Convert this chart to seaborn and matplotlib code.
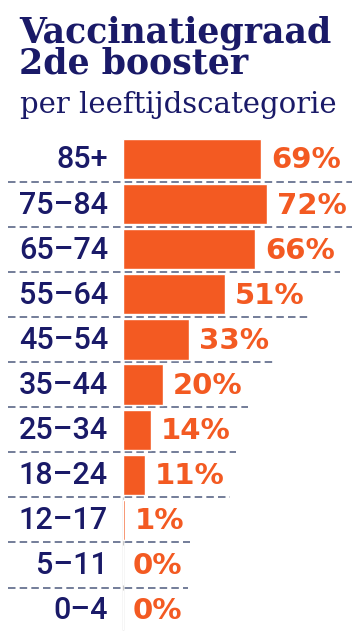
import matplotlib
matplotlib.use("Agg")
import matplotlib.pyplot as plt
import seaborn as sns
import pandas as pd

categories = ["85+", "75–84", "65–74", "55–64", "45–54", "35–44", "25–34", "18–24", "12–17", "5–11", "0–4"]
values = [69, 72, 66, 51, 33, 20, 14, 11, 1, 0, 0]
value_labels = [f"{v}%" for v in values]
title_line1 = "Vaccinatiegraad"
title_line2 = "2de booster"
subtitle = "per leeftijdscategorie"

ORANGE = "#f35a22"
NAVY = "#1a1a68"
DASH = "#5b6787"

sns.set_theme(style="white")
plt.rcParams["font.family"] = ["DejaVu Sans"]

W, H = 362, 640
fig = plt.figure(figsize=(W / 100, H / 100), dpi=100)
fig.patch.set_facecolor("white")

left_px, right_px = 8, 362
top_px, bot_px = 136.5, 632.6
ax = fig.add_axes([left_px / W, 1 - bot_px / H, (right_px - left_px) / W, (bot_px - top_px) / H])

df = pd.DataFrame({"cat": categories, "val": values})
sns.barplot(data=df, y="cat", x="val", orient="h", color=ORANGE, width=0.89,
            saturation=1, ax=ax, order=categories, zorder=3)

x0_px = 123
scale = 2.0  # px per %
ax.set_xlim((left_px - x0_px) / scale, (right_px - x0_px) / scale)
ax.set_ylim(len(categories) - 0.5, -0.5)
ax.axis("off")

for i, c in enumerate(categories):
    ax.text(-7.5, i + 0.02, c, ha="right", va="center", fontsize=22, color=NAVY,
            family=["Roboto", "DejaVu Sans"], fontweight="medium")

vtexts = []
for i, (v, lab) in enumerate(zip(values, value_labels)):
    t = ax.text(v + 5.0, i + 0.03, lab, ha="left", va="center", fontsize=21,
                fontweight="heavy", color=ORANGE, family="DejaVu Sans")
    vtexts.append(t)

ax.vlines(0, 7.5, 10.45, color="#c8c8c8", lw=1, zorder=1)

fig.canvas.draw()
renderer = fig.canvas.get_renderer()
inv = ax.transData.inverted()
ends = []
for t in vtexts:
    bb = t.get_window_extent(renderer)
    ends.append(inv.transform((bb.x1, bb.y0))[0])

xmin = ax.get_xlim()[0]
for i in range(len(categories) - 1):
    xend = max(ends[i], ends[i + 1]) + 2.5
    ax.plot([xmin, xend], [i + 0.5, i + 0.5], color=DASH, lw=1.2,
            dashes=(4.5, 2.5), zorder=2, solid_capstyle="butt")

fig.text(19 / W, 1 - 42 / H, title_line1, ha="left", va="baseline", fontsize=25,
         fontweight="heavy", color=NAVY, family="DejaVu Serif")
fig.text(19 / W, 1 - 74 / H, title_line2, ha="left", va="baseline", fontsize=25,
         fontweight="heavy", color=NAVY, family="DejaVu Serif")
fig.text(20 / W, 1 - 113 / H, subtitle, ha="left", va="baseline", fontsize=21,
         color=NAVY, family="DejaVu Serif")

fig.savefig("out.png", dpi=100, facecolor="white")
